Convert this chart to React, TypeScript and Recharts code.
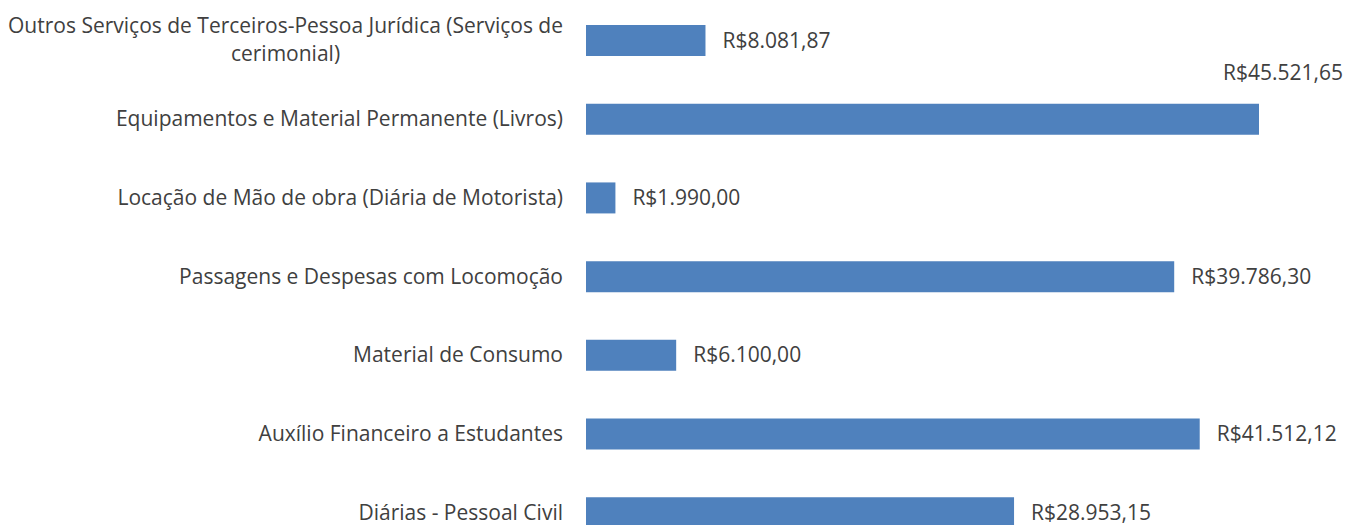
import React from 'react'
import { BarChart, Bar, XAxis, YAxis, LabelList } from 'recharts'

const categories = [
  'Outros Serviços de Terceiros-Pessoa Jurídica (Serviços de cerimonial)',
  'Equipamentos e Material Permanente (Livros)',
  'Locação de Mão de obra (Diária de Motorista)',
  'Passagens e Despesas com Locomoção',
  'Material de Consumo',
  'Auxílio Financeiro a Estudantes',
  'Diárias - Pessoal Civil',
]

const values = [8081.87, 45521.65, 1990.0, 39786.3, 6100.0, 41512.12, 28953.15]

const data = categories.map((name, i) => ({ name, value: values[i] }))

const CHART_W = 1347
const CHART_H = 553
const FONT = '"Open Sans", sans-serif'
const FONT_SIZE = 21
const TEXT = '#404040'
const BAR = '#4F81BD'
const MAX_CHARS = 57

const maxValue = Math.max(...values)

function formatBRL(v: number) {
  const [int, dec] = v.toFixed(2).split('.')
  const withDots = int.replace(/\B(?=(\d{3})+(?!\d))/g, '.')
  return `R$${withDots},${dec}`
}

function wrap(text: string) {
  const words = text.split(' ')
  const lines: string[] = []
  let cur = ''
  for (const w of words) {
    const next = cur ? cur + ' ' + w : w
    if (next.length > MAX_CHARS && cur) {
      lines.push(cur)
      cur = w
    } else {
      cur = next
    }
  }
  if (cur) lines.push(cur)
  return lines
}

let ctx: CanvasRenderingContext2D | null = null
function measure(text: string) {
  if (!ctx) ctx = document.createElement('canvas').getContext('2d')
  if (!ctx) return text.length * FONT_SIZE * 0.5
  ctx.font = `${FONT_SIZE}px "Open Sans"`
  return ctx.measureText(text).width
}

function CategoryTick(props: any) {
  const { x, y, payload } = props
  const lines = wrap(payload.value)
  if (lines.length === 1) {
    return (
      <text x={x} y={y + 7} textAnchor="end" fill={TEXT} fontSize={FONT_SIZE} fontFamily={FONT}>
        {lines[0]}
      </text>
    )
  }
  const widest = Math.max(...lines.map(measure))
  const cx = x - widest / 2
  const lh = 28
  const top = y + 7 - ((lines.length - 1) * lh) / 2
  return (
    <text textAnchor="middle" fill={TEXT} fontSize={FONT_SIZE} fontFamily={FONT}>
      {lines.map((l, i) => (
        <tspan key={i} x={cx} y={top + i * lh}>
          {l}
        </tspan>
      ))}
    </text>
  )
}

function ValueLabel(props: any) {
  const { x, y, width, height, value } = props
  if (value === maxValue) {
    return (
      <text x={CHART_W - 4} y={y - 24} textAnchor="end" fill={TEXT} fontSize={FONT_SIZE} fontFamily={FONT}>
        {formatBRL(value)}
      </text>
    )
  }
  return (
    <text x={x + width + 17} y={y + height / 2 + 7} fill={TEXT} fontSize={FONT_SIZE} fontFamily={FONT}>
      {formatBRL(value)}
    </text>
  )
}

export default function App() {
  return (
    <div
      style={{
        position: 'absolute',
        left: 0,
        top: 0,
        width: CHART_W,
        height: 525,
        overflow: 'hidden',
        background: '#fff',
      }}
    >
      <BarChart
        width={CHART_W}
        height={CHART_H}
        data={data}
        layout="vertical"
        margin={{ top: 1, right: 88, bottom: 1, left: 0 }}
      >
        <XAxis type="number" hide domain={[0, 'dataMax']} />
        <YAxis
          type="category"
          dataKey="name"
          width={586}
          axisLine={false}
          tickLine={false}
          tickMargin={17}
          interval={0}
          tick={<CategoryTick />}
        />
        <Bar dataKey="value" fill={BAR} barSize={31} isAnimationActive={false}>
          <LabelList dataKey="value" content={<ValueLabel />} />
        </Bar>
      </BarChart>
    </div>
  )
}
